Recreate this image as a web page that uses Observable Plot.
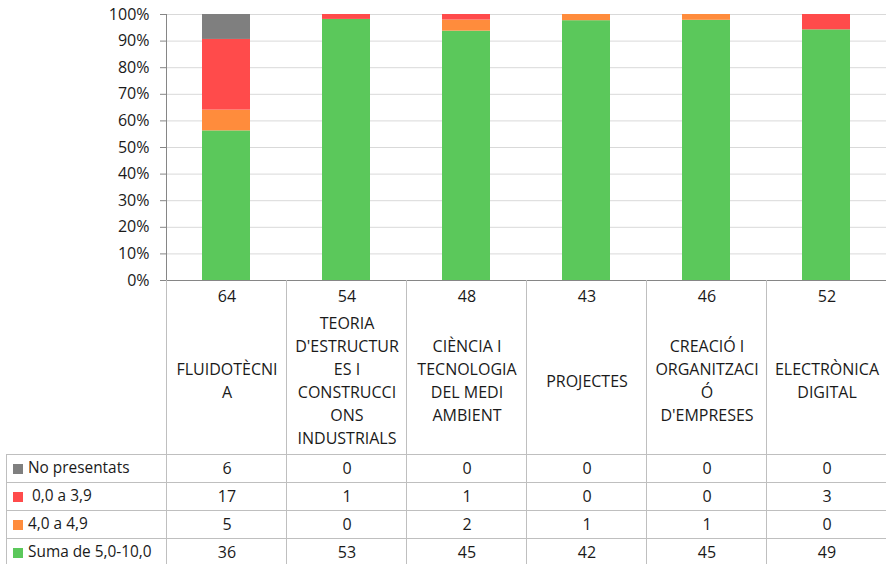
<!DOCTYPE html>
<html><head><meta charset="utf-8">
<script src="https://cdn.jsdelivr.net/npm/d3@7"></script>
<script src="https://cdn.jsdelivr.net/npm/@observablehq/plot@0.6"></script>
<style>
body{margin:0;background:#fff;font-family:"Open Sans",sans-serif;color:#1a1a1a;}
#wrap{position:relative;width:886px;height:564px;overflow:hidden;}
#wrap svg{position:absolute;left:0;top:0;overflow:visible;}
.c{position:absolute;box-sizing:border-box;font-size:16px;white-space:nowrap;}
.b{border-color:#bfbfbf;border-style:solid;border-width:0;}
</style></head><body><div id="wrap"></div>
<script>
// ---- data ----
const categories = ["FLUIDOTÈCNIA","TEORIA D'ESTRUCTURES I CONSTRUCCIONS INDUSTRIALS","CIÈNCIA I TECNOLOGIA DEL MEDI AMBIENT","PROJECTES","CREACIÓ I ORGANITZACIÓ D'EMPRESES","ELECTRÒNICA DIGITAL"];
const categoryLines = [
  ["FLUIDOTÈCNI","A"],
  ["TEORIA","D'ESTRUCTUR","ES I","CONSTRUCCI","ONS","INDUSTRIALS"],
  ["CIÈNCIA I","TECNOLOGIA","DEL MEDI","AMBIENT"],
  ["PROJECTES"],
  ["CREACIÓ I","ORGANITZACI","Ó","D'EMPRESES"],
  ["ELECTRÒNICA","DIGITAL"]
];
const seriesNames = ["No presentats"," 0,0 a 3,9","4,0 a 4,9","Suma de 5,0-10,0"];
const seriesColors = ["#7f7f7f","#ff4b4b","#ff8c3c","#5bc85b"];
const noPresentats = [6,0,0,0,0,0];
const suspes = [17,1,1,0,0,3];
const quatre = [5,0,2,1,1,0];
const aprovats = [36,53,45,42,45,49];
const yTicks = [0,0.1,0.2,0.3,0.4,0.5,0.6,0.7,0.8,0.9,1];

const seriesValues = [noPresentats, suspes, quatre, aprovats];
// long format, bottom of stack first
const data = [];
[3,2,1,0].forEach(s => categories.forEach((c,i) => data.push({cat:c, series:seriesNames[s], value:seriesValues[s][i]})));
const totals = categories.map((c,i) => seriesValues.reduce((a,v) => a + v[i], 0));

const wrap = document.getElementById("wrap");
const plotLeft = 166, plotTop = 14, plotBottom = 280, W = 886;

const chart = Plot.plot({
  width: W, height: plotBottom + 1,
  marginLeft: plotLeft, marginRight: 0, marginTop: plotTop, marginBottom: 1,
  style: {fontFamily: "'Open Sans', sans-serif", fontSize: "16px", color: "#1a1a1a", background: "transparent"},
  x: {domain: categories, paddingInner: 0.6, paddingOuter: 0.3, axis: null},
  y: {domain: [0,1], axis: null},
  color: {domain: seriesNames, range: seriesColors},
  marks: [
    Plot.ruleY(yTicks, {stroke: "#d9d9d9", strokeOpacity: 1}),
    Plot.barY(data, Plot.stackY({offset: "normalize", x: "cat", y: "value", fill: "series"})),
    Plot.axisY({ticks: yTicks, tickFormat: d3.format(".0%"), tickSize: 6, tickPadding: 11, label: null, stroke: "#868686", fill: "#1a1a1a", fontSize: "16px"}),
    Plot.frame({anchor: "left", stroke: "#868686"}),
    Plot.ruleY([0], {stroke: "#868686"})
  ]
});
wrap.appendChild(chart);

// ---- data table ----
const colW = (W - plotLeft) / categories.length;
function cell(x, y, w, h, cls, style) {
  const d = document.createElement("div");
  d.className = "c " + cls;
  Object.assign(d.style, {left: x + "px", top: y + "px", width: w + "px", height: h + "px"}, style || {});
  wrap.appendChild(d);
  return d;
}
const headH = 174, rowH = 28, tableTop = plotBottom, rowsTop = tableTop + headH;
categories.forEach((c, i) => {
  const x = plotLeft + i * colW;
  const d = cell(x, tableTop, colW + 1, headH + 4 * rowH + 10, "b", {borderLeftWidth: "1px"});
  const n = document.createElement("div");
  Object.assign(n.style, {position: "absolute", left: 0, right: 0, top: "5px", textAlign: "center", lineHeight: "23px"});
  n.textContent = totals[i];
  d.appendChild(n);
  const lab = document.createElement("div");
  const lines = categoryLines[i];
  Object.assign(lab.style, {position: "absolute", left: 0, right: 0, textAlign: "center", lineHeight: "23px", top: (101 - lines.length * 23 / 2) + "px"});
  lab.innerHTML = lines.map(l => l.replace(/&/g, "&amp;")).join("<br>");
  d.appendChild(lab);
});
// rows: legend order top to bottom as in series names
seriesNames.forEach((s, r) => {
  const y = rowsTop + r * rowH;
  const lg = cell(6, y, plotLeft - 6 + 1, rowH + 1, "b", {borderWidth: "1px", lineHeight: (rowH - 2) + "px", paddingLeft: "6px", fontSize: "15.4px"});
  const sw = document.createElement("span");
  Object.assign(sw.style, {display: "inline-block", width: "10px", height: "10px", background: seriesColors[r], marginRight: "5px", verticalAlign: "-1px"});
  lg.appendChild(sw);
  lg.appendChild(document.createTextNode(s.replace(/^ /, "\u00a0")));
  categories.forEach((c, i) => {
    const x = plotLeft + i * colW;
    const v = cell(x, y, colW + 1, rowH + 1, "b", {borderTopWidth: "1px", borderLeftWidth: "1px", textAlign: "center", lineHeight: (rowH - 1) + "px"});
    v.textContent = seriesValues[r][i];
  });
});
</script></body></html>
